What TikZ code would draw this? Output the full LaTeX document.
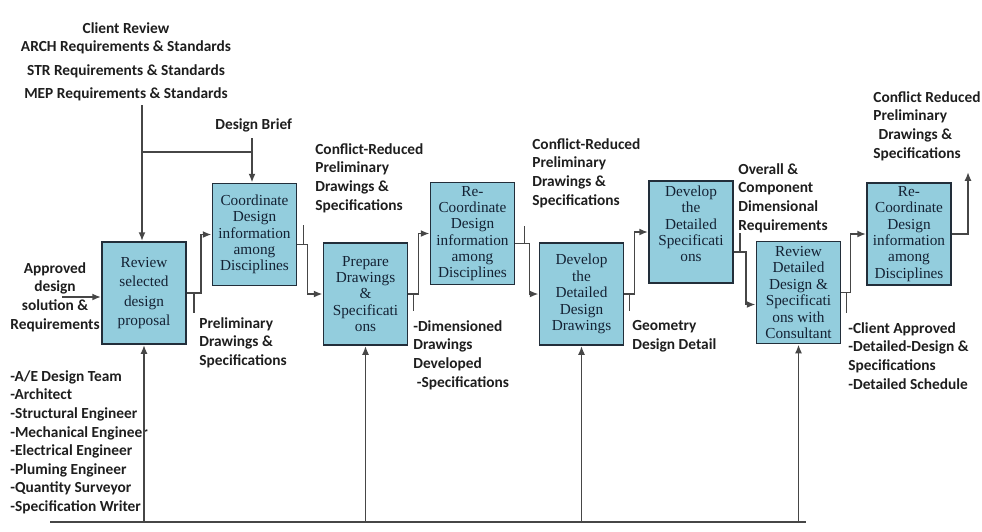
\documentclass[tikz,border=0pt]{standalone}
\usepackage{fontspec}
\setmainfont{Liberation Serif}
\newfontfamily\labelfont{Carlito}
\usetikzlibrary{arrows.meta,calc}
\definecolor{boxfill}{RGB}{147,205,221}
\definecolor{boxline}{RGB}{34,46,58}
\definecolor{boxtext}{RGB}{20,34,52}
\definecolor{notetext}{RGB}{30,30,30}
\definecolor{wire}{RGB}{70,70,70}
\begin{document}
\begin{tikzpicture}[
	x=0.02cm, y=-0.02cm,
	procbox/.style={rectangle, fill=boxfill, draw=boxline, line width=1.1pt, minimum width=1.68cm, minimum height=2.04cm, inner sep=1pt, align=center, text=boxtext, font=\fontsize{8.7}{9.3}\selectfont},
	note/.style={inner sep=0pt, align=left, text=notetext, font=\labelfont\bfseries\fontsize{8.75}{10.6}\selectfont},
	flow/.style={draw=wire, line width=1pt},
	tip/.style={-{Latex[length=5pt,width=4pt]}},
]
\useasboundingbox (0,0) rectangle (982,531);

\node[procbox] (review) at (144,293) {Review\\[1.7pt] selected\\[1.7pt] design\\[1.7pt] proposal};
\node[procbox] (coord) at (254.5,234.5) {Coordinate\\ Design\\ information\\ among\\ Disciplines};
\node[procbox] (prepare) at (365.5,294) {Prepare\\ Drawings\\ \&\\ Specificati\\ ons};
\node[procbox] (recoord) at (472.5,233.5) {Re-\\ Coordinate\\ Design\\ information\\ among\\ Disciplines};
\node[procbox] (drawings) at (581.5,294) {Develop\\ the\\ Detailed\\ Design\\ Drawings};
\node[procbox] (specs) at (691,232) {Develop\\ the\\ Detailed\\ Specificati\\ ons\\ \mbox{}};
\node[procbox] (consult) at (798.5,292.5) {Review\\ Detailed\\ Design \&\\ Specificati\\ ons with\\ Consultant};
\node[procbox] (final) at (909,234) {Re-\\ Coordinate\\ Design\\ information\\ among\\ Disciplines};

\node[note, anchor=north, align=center] (reqs) at (126,22) {Client Review\\ ARCH Requirements \& Standards\\[2.8pt] STR Requirements \& Standards\\[2.8pt] MEP Requirements \& Standards};
\node[note, anchor=north west] (brief) at (215,118) {Design Brief};
\node[note, anchor=north, align=center] (approved) at (55,262) {Approved\\ design\\ solution \&\\ Requirements};
\node[note, anchor=north west] (prelim) at (199,317) {Preliminary\\ Drawings \&\\ Specifications};
\node[note, anchor=north west] (team) at (10,370) {-A/E Design Team\\ -Architect\\ -Structural Engineer\\ -Mechanical Engineer\\ -Electrical Engineer\\ -Pluming Engineer\\ -Quantity Surveyor\\ -Specification Writer};
\node[note, anchor=north west] (reduced) at (315,143) {Conflict-Reduced\\ Preliminary\\ Drawings \&\\ Specifications};
\node[note, anchor=north west] (reducedb) at (532,138) {Conflict-Reduced\\ Preliminary\\ Drawings \&\\ Specifications};
\node[note, anchor=north west] (dimensioned) at (413,320) {-Dimensioned\\ Drawings\\ Developed\\ \hspace{2pt}-Specifications};
\node[note, anchor=north west] (geometry) at (632,320) {Geometry\\ Design Detail};
\node[note, anchor=north west] (overall) at (738,163) {Overall \&\\ Component\\ Dimensional\\ Requirements};
\node[note, anchor=north west] (reducedc) at (873,91) {Conflict Reduced\\ Preliminary\\ \hspace{3pt}Drawings \&\\ Specifications};
\node[note, anchor=north west] (clientok) at (848,322) {-Client Approved\\ -Detailed-Design \&\\ Specifications\\ -Detailed Schedule};

\coordinate (reqin) at (142,105);
\coordinate (briefin) at (252,138);
\coordinate (join) at (142,152);
\coordinate (appin) at (62,297);
\coordinate (base) at (50,522);
\coordinate (baseend) at (806,522);
\coordinate (outend) at (968,172);

\draw[flow,tip] (reqin) -- (reqin |- review.north);
\draw[flow] (join) -- (join -| briefin);
\draw[flow,tip] (briefin) -- (briefin |- coord.north);
\draw[flow,tip] (appin) -- (appin -| review.west);

\draw[flow,tip] (review.east) -- ++(14,0) |- (coord.west);
\draw[flow,tip] ($(coord.east)+(0,10)$) -- ++(10,0) |- (prepare.west);
\draw[flow,tip] (prepare.east) -- ++(10,0) |- (recoord.west);
\draw[flow,tip] ($(recoord.east)+(0,10)$) -- ++(14,0) |- (drawings.west);
\draw[flow,tip] (drawings.east) -- ++(10,0) |- (specs.west);
\draw[flow,tip] ($(specs.east)+(0,20)$) -- ++(12,0) |- ($(consult.west)+(0,12)$);
\draw[flow,tip] (consult.east) -- ++(9,0) |- (final.west);
\draw[flow,tip] (final.east) -| (outend);

\draw[flow] ($(review.east)+(7,0)$) -- ++(0,20);
\draw[flow] ($(coord.east)+(6,10)$) -- ++(0,-20);
\draw[flow] ($(prepare.east)+(5,0)$) -- ++(0,17);
\draw[flow] ($(recoord.east)+(9,10)$) -- ++(0,-18);
\draw[flow] ($(drawings.east)+(5,0)$) -- ++(0,17);
\draw[flow] ($(specs.east)+(6,20)$) -- ++(0,-19);
\draw[flow] ($(consult.east)+(5,0)$) -- ++(0,20);

\draw[flow] (base) -- (baseend);
\draw[flow,tip] (review.south |- base) -- (review.south);
\draw[flow,tip] (prepare.south |- base) -- (prepare.south);
\draw[flow,tip] (drawings.south |- base) -- (drawings.south);
\draw[flow,tip] (consult.south |- base) -- (consult.south);
\end{tikzpicture}
\end{document}
